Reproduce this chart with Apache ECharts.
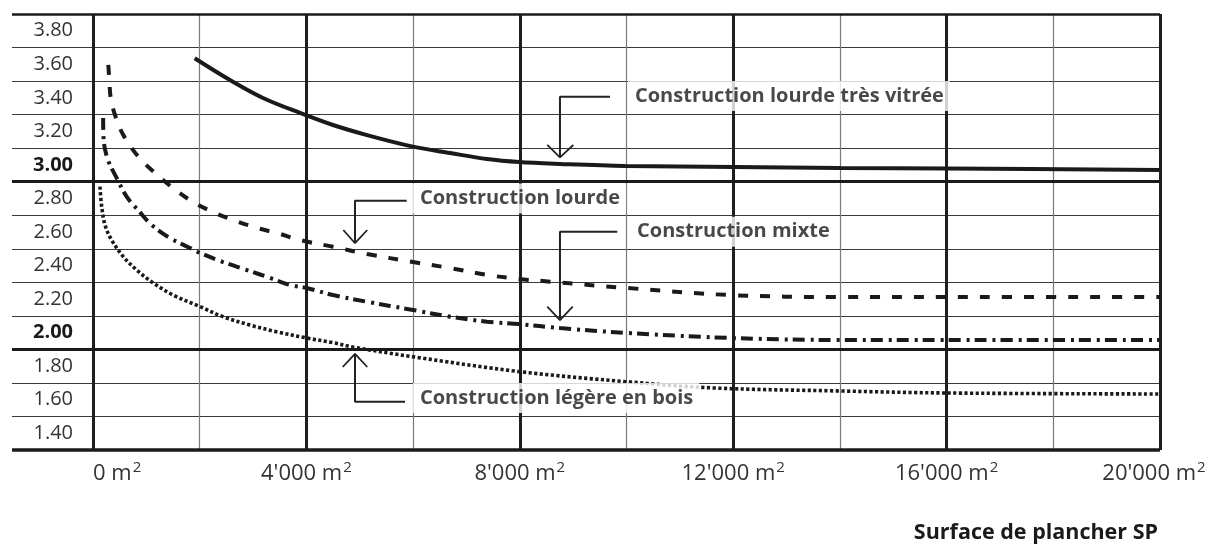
<!DOCTYPE html>
<html><head><meta charset="utf-8">
<script src="https://cdn.jsdelivr.net/npm/echarts@6/dist/echarts.min.js"></script>
<style>html,body{margin:0;padding:0;background:#fff}#c{width:1207px;height:544px}</style>
</head><body><div id="c"></div>
<script>
// Row labels (each label names the band it sits in), bottom to top
const yTickLabels = ['1.40','1.60','1.80','2.00','2.20','2.40','2.60','2.80','3.00','3.20','3.40','3.60','3.80'];
const boldLabels = ['3.00','2.00'];
const yRange = [1.3, 3.9];
const xRange = [0, 20000];
const emphasisLines = [1.9, 2.9];

// Curves [surface m², value]
const lourdeTresVitree = [[1906,3.636],[2568,3.506],[3187,3.399],[3880,3.310],[4498,3.238],[5136,3.178],[5998,3.109],[6692,3.071],[7385,3.035],[7985,3.017],[8753,3.006],[9972,2.994],[12015,2.988],[14002,2.982],[16007,2.979],[20000,2.970]];
const lourde = [[287,3.596],[306,3.506],[332,3.399],[412,3.298],[568,3.178],[849,3.049],[1162,2.952],[1500,2.862],[1874,2.779],[2249,2.719],[2624,2.672],[3074,2.624],[3449,2.594],[3880,2.552],[4498,2.512],[5136,2.469],[5998,2.421],[6692,2.385],[7385,2.344],[7985,2.320],[8566,2.304],[10009,2.266],[11940,2.224],[14002,2.212],[16007,2.212],[20000,2.212]];
const mixte = [[190,3.280],[200,3.149],[281,3.029],[444,2.922],[631,2.811],[843,2.731],[1100,2.642],[1443,2.564],[1818,2.505],[2006,2.475],[2437,2.421],[2887,2.373],[3318,2.326],[3693,2.284],[4006,2.266],[4498,2.224],[5136,2.184],[5998,2.135],[6692,2.095],[7385,2.065],[7985,2.051],[8753,2.027],[10009,1.998],[11940,1.968],[14002,1.956],[16007,1.956],[20000,1.956]];
const legereBois = [[131,2.870],[163,2.751],[225,2.642],[350,2.552],[568,2.453],[819,2.373],[1130,2.296],[1500,2.224],[2006,2.155],[2437,2.095],[2943,2.045],[3443,2.005],[4006,1.968],[4498,1.940],[4873,1.914],[5998,1.856],[8003,1.767],[10009,1.707],[11621,1.670],[14002,1.652],[16007,1.640],[20000,1.634]];

// Annotations (data coordinates)
const labelTexts = ['Construction lourde très vitrée','Construction lourde','Construction mixte','Construction légère en bois'];
const labelAnchors = [[10159,3.411],[6129,2.800],[10197,2.602],[6129,1.610]];
const leaderPaths = [
  [[9691,3.407],[8753,3.407],[8753,3.045]],
  [[5880,2.787],[4911,2.787],[4911,2.535]],
  [[9827,2.602],[8753,2.602],[8753,2.075]],
  [[5848,1.588],[4911,1.588],[4911,1.873]]
];
const arrowHeads = [
  [[8515,3.119],[8753,3.045],[9003,3.119]],
  [[4692,2.612],[4911,2.533],[5141,2.612]],
  [[8515,2.155],[8753,2.075],[8992,2.155]],
  [[4680,1.795],[4911,1.873],[5141,1.795]]
];
const xTitle = 'Surface de plancher SP';

const FONT = "'Open Sans', 'Noto Sans', sans-serif";
const INK = '#1a1a1a';

function fmtThousands(v){ return String(v).replace(/\B(?=(\d{3})+(?!\d))/g, "'"); }

const curveStyles = [
  {width:4, type:'solid'},
  {width:4, type:[10,12]},
  {width:4, type:[12,6,3,5]},
  {width:3.6, type:[3.2,2.4]}
];
const curves = [lourdeTresVitree, lourde, mixte, legereBois];

const series = [];
// frame + emphasis lines in label column and plot
[[0,1],[2,3]].forEach(([xi, yi]) => {
  series.push({
    type:'line', xAxisIndex:xi, yAxisIndex:yi, data:[], silent:true, clip:false,
    markLine:{silent:true, symbol:'none', label:{show:false}, animation:false,
      data:[
        {yAxis:emphasisLines[0], lineStyle:{color:INK, width:3, type:'solid'}},
        {yAxis:emphasisLines[1], lineStyle:{color:INK, width:3, type:'solid'}},
        {yAxis:yRange[0], lineStyle:{color:INK, width:3.5, type:'solid'}},
        {yAxis:yRange[1], lineStyle:{color:INK, width:2.5, type:'solid'}}
      ]}
  });
});
curves.forEach((d, i) => {
  series.push({type:'line', xAxisIndex:2, yAxisIndex:3, data:d, symbol:'none', smooth:0.35, z:5,
    lineStyle:{color:INK, width:curveStyles[i].width, type:curveStyles[i].type, cap:'butt'}});
});
leaderPaths.forEach(p => series.push({type:'line', xAxisIndex:2, yAxisIndex:3, data:p, symbol:'none', z:6,
  lineStyle:{color:'#222', width:2}}));
arrowHeads.forEach(p => series.push({type:'line', xAxisIndex:2, yAxisIndex:3, data:p, symbol:'none', z:6,
  lineStyle:{color:'#222', width:1.8}}));
series.push({type:'scatter', xAxisIndex:2, yAxisIndex:3, symbolSize:0, z:7,
  data: labelAnchors.map((a, i) => ({value:a, name:labelTexts[i]})),
  label:{show:true, position:'right', distance:0, offset:[-7,0], formatter:p => p.name,
    fontFamily:FONT, fontSize:20, fontWeight:'bold', color:INK, backgroundColor:'#fff', padding:[5,6,5,7]}});

const splitStyle = {color:'#3a3a3a', width:1.2};

const option = {
  animation:false,
  backgroundColor:'#fff',
  title:{text:xTitle, right:44, top:517, textStyle:{fontFamily:FONT, fontSize:21.5, fontWeight:'bold', color:INK}},
  grid:[
    {left:12, top:14, width:81, height:436, outerBoundsMode:'none', containLabel:false},
    {left:93, top:14, width:1067, height:436, outerBoundsMode:'none', containLabel:false}
  ],
  xAxis:[
    {gridIndex:0, type:'value', min:0, max:1, show:false},
    {gridIndex:1, type:'value', min:xRange[0], max:xRange[1], interval:2000, position:'top',
      axisLine:{show:false}, axisTick:{show:false}, axisLabel:{show:false},
      splitLine:{show:true, lineStyle:{color:'#7a7a7a', width:1.2}}},
    {gridIndex:1, type:'value', min:xRange[0], max:xRange[1], interval:4000, position:'bottom',
      axisLine:{show:false}, axisTick:{show:false},
      axisLabel:{margin:10, color:'#333', alignMinLabel:'left',
        formatter:v => '{n|' + fmtThousands(v) + ' m}' + (v === xRange[1] ? '{se|2}' : '{s|2}'),
        rich:{
          n:{fontFamily:FONT, fontSize:22, color:'#333', lineHeight:28},
          s:{fontFamily:FONT, fontSize:15, color:'#333', verticalAlign:'top', lineHeight:28, padding:[0,0,0,1]},
          se:{fontFamily:FONT, fontSize:15, color:'#333', verticalAlign:'top', lineHeight:28, padding:[0,12,0,1]}}},
      splitLine:{show:true, lineStyle:{color:'#1e1e1e', width:3}}}
  ],
  yAxis:[
    {gridIndex:0, type:'category', data:yTickLabels, position:'right', boundaryGap:true,
      axisLine:{show:false}, axisTick:{show:false},
      axisLabel:{inside:true, margin:20, interval:0, fontFamily:FONT, fontSize:20, color:'#333',
        formatter:v => boldLabels.includes(v) ? '{b|' + v + '}' : v,
        rich:{b:{fontFamily:FONT, fontSize:20, fontWeight:'bold', color:INK}}},
      splitLine:{show:true, interval:0, lineStyle:splitStyle}},
    {gridIndex:0, type:'value', min:yRange[0], max:yRange[1], show:false},
    {gridIndex:1, type:'category', data:yTickLabels, boundaryGap:true,
      axisLine:{show:false}, axisTick:{show:false}, axisLabel:{show:false},
      splitLine:{show:true, interval:0, lineStyle:splitStyle}},
    {gridIndex:1, type:'value', min:yRange[0], max:yRange[1], show:false}
  ],
  series:series
};
echarts.init(document.getElementById('c')).setOption(option);
</script>
</body></html>
